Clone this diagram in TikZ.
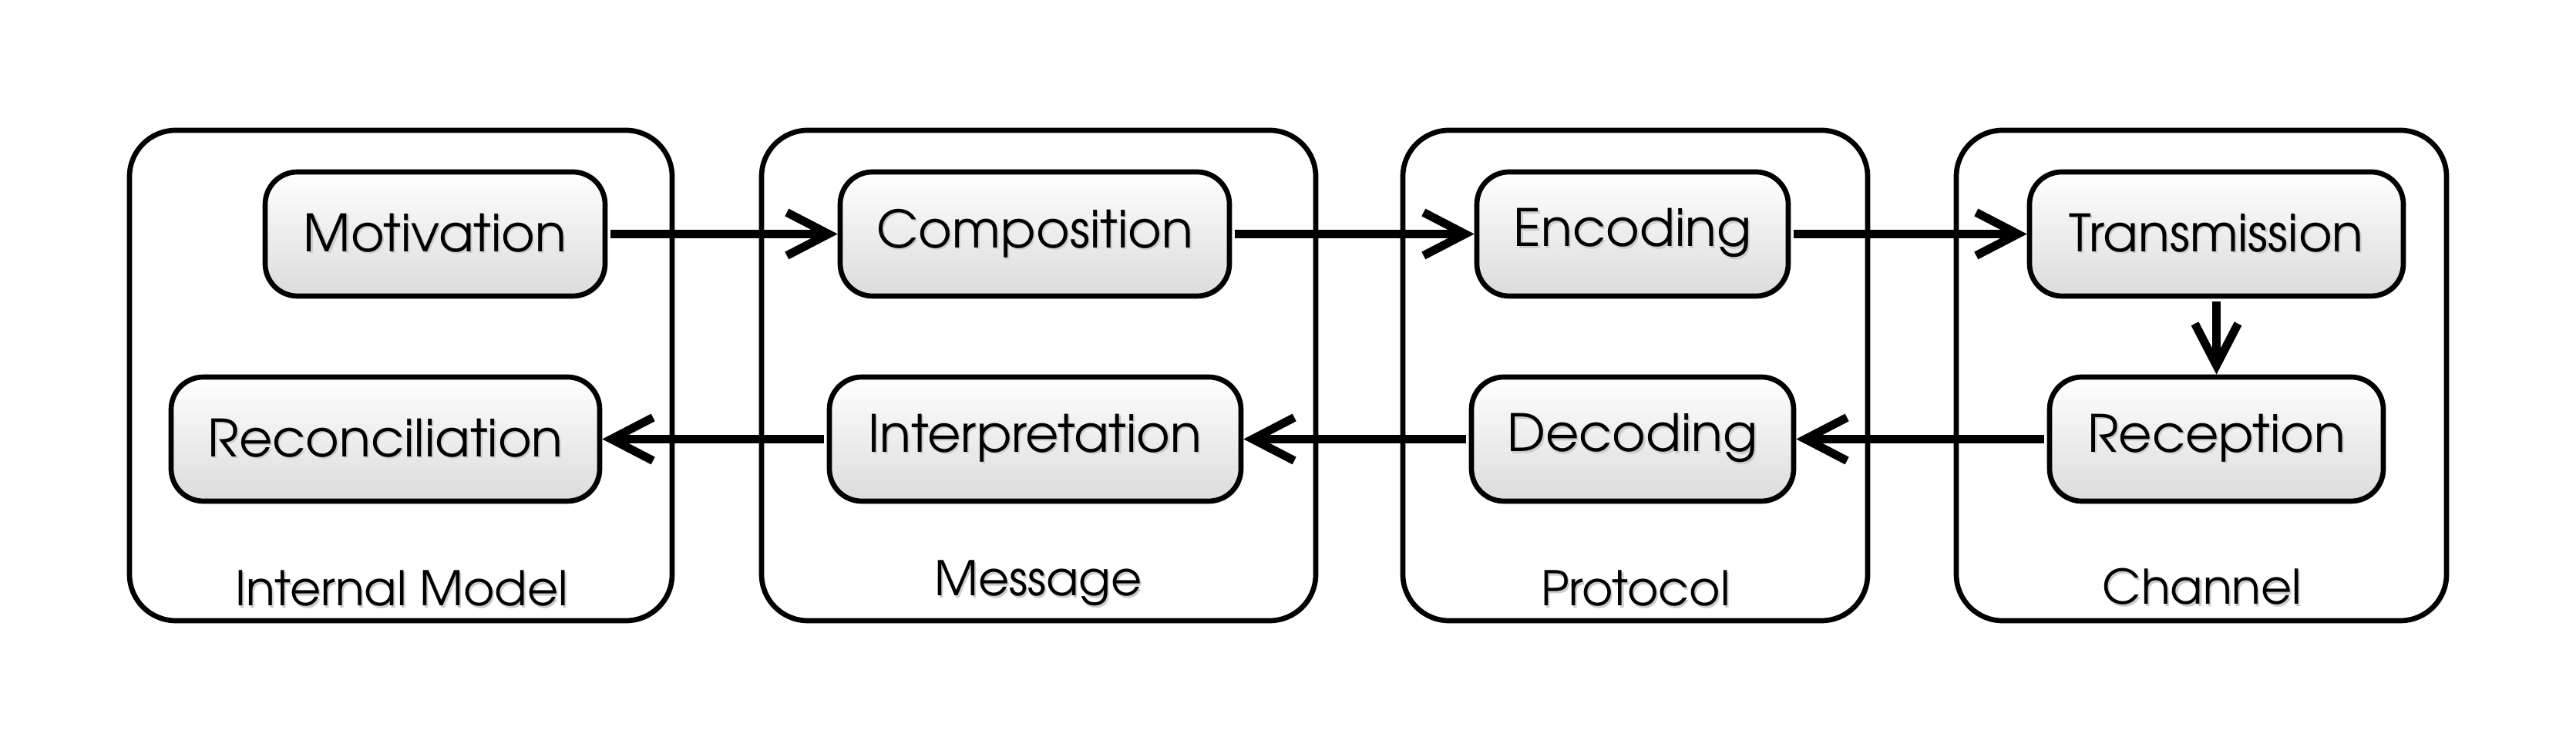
\documentclass[tikz,border=0pt]{standalone}
\usepackage{fontspec}
\setmainfont{texgyreadventor}[Extension=.otf, UprightFont=*-regular, BoldFont=*-bold]
\usetikzlibrary{arrows.meta,shadows}
\newcommand\shtext[1]{\makebox[0pt][l]{\hspace{0.6pt}\raisebox{-0.6pt}{\textcolor{black!20}{#1}}}#1}
\tikzset{
  frame/.style={draw=black, line width=1.9pt, rounded corners=0.6cm, fill=white,
    drop shadow={shadow xshift=0.8pt, shadow yshift=-0.8pt, fill=black!30, opacity=0.6}},
  stage/.style={draw=black, line width=1.9pt, rounded corners=0.42cm,
    top color=white, bottom color=black!14, minimum height=1.61cm,
    inner sep=0pt, font=\fontsize{19}{23}\selectfont,
    drop shadow={shadow xshift=0.8pt, shadow yshift=-0.8pt, fill=black!30, opacity=0.6}},
  grouplabel/.style={anchor=base, inner sep=0pt, font=\fontsize{17.6}{21}\selectfont},
  flow/.style={line width=3.1pt, -{Straight Barb[length=0.54cm, width=0.56cm]}, shorten <=1pt}
}
\begin{document}
\begin{tikzpicture}
\useasboundingbox (0,0) rectangle (33.42,-9.74);
% outer groups
\node[frame, minimum width=7.04cm, minimum height=6.36cm] (g1) at (5.20,-4.87) {};
\node[frame, minimum width=7.19cm, minimum height=6.36cm] (g2) at (13.475,-4.87) {};
\node[frame, minimum width=6.03cm, minimum height=6.36cm] (g3) at (21.215,-4.87) {};
\node[frame, minimum width=6.36cm, minimum height=6.36cm] (g4) at (28.56,-4.87) {};
\node[grouplabel] (l1) at (5.21,-7.86) {\shtext{Internal Model}};
\node[grouplabel] (l2) at (13.47,-7.73) {\shtext{Message}};
\node[grouplabel] (l3) at (21.22,-7.86) {\shtext{Protocol}};
\node[grouplabel] (l4) at (28.57,-7.84) {\shtext{Channel}};
% stages
\node[stage, minimum width=4.41cm] (mot) at (5.645,-3.035) {\shtext{Motivation}};
\node[stage, minimum width=5.05cm] (comp) at (13.425,-3.035) {\shtext{Composition}};
\node[stage, minimum width=4.04cm] (enc) at (21.18,-3.035) {\shtext{Encoding}};
\node[stage, minimum width=4.85cm] (trans) at (28.755,-3.035) {\shtext{Transmission}};
\node[stage, minimum width=5.56cm] (rec) at (5.00,-5.695) {\shtext{Reconciliation}};
\node[stage, minimum width=5.34cm] (int) at (13.43,-5.695) {\shtext{Interpretation}};
\node[stage, minimum width=4.18cm] (dec) at (21.18,-5.695) {\shtext{Decoding}};
\node[stage, minimum width=4.33cm] (recp) at (28.755,-5.695) {\shtext{Reception}};
% flows
\draw[flow] (mot) -- (comp);
\draw[flow] (comp) -- (enc);
\draw[flow] (enc) -- (trans);
\draw[flow] (trans) -- (recp);
\draw[flow] (recp) -- (dec);
\draw[flow] (dec) -- (int);
\draw[flow] (int) -- (rec);
\end{tikzpicture}
\end{document}
